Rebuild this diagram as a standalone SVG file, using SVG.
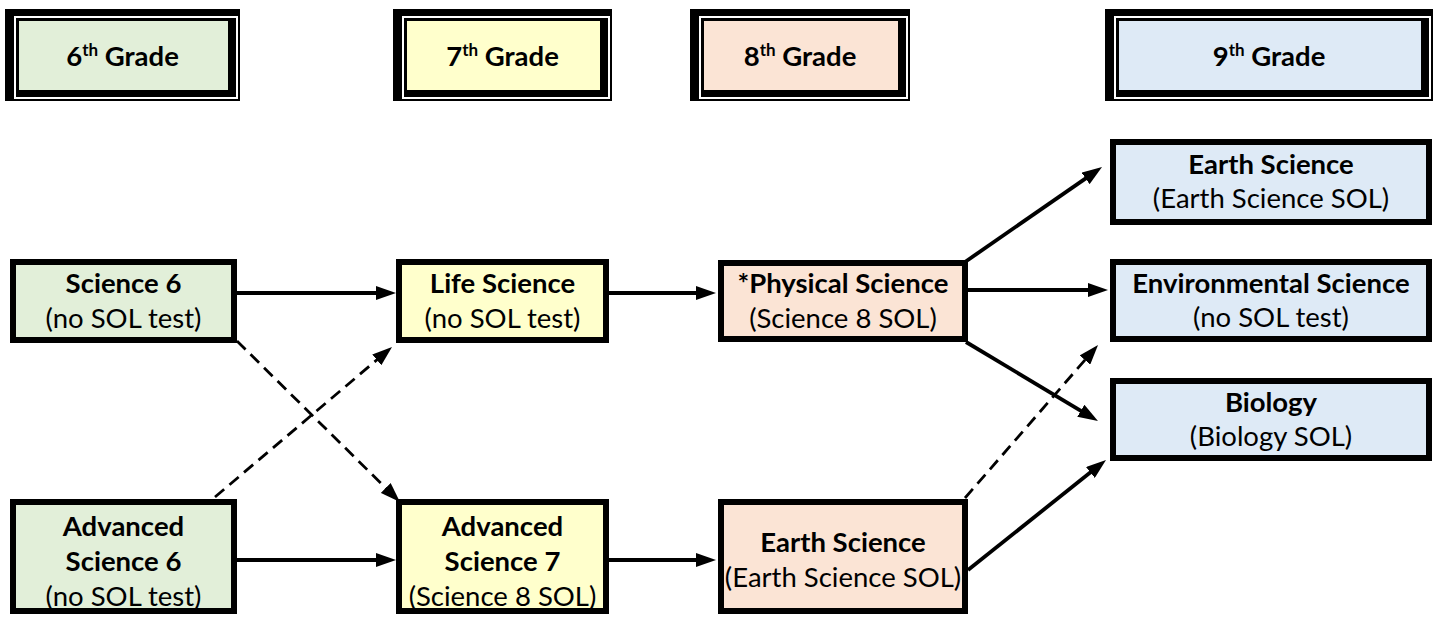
<svg xmlns="http://www.w3.org/2000/svg" width="1439" height="617" viewBox="0 0 1439 617">
<defs>
<style>
text{font-family:Lato,"Liberation Sans",sans-serif;font-size:27.5px;fill:#000;text-anchor:middle}
.b{font-weight:bold}
.sup{font-size:17px}
.node{stroke:#000;stroke-width:6}
.g6{fill:#E2EFD9}.g7{fill:#FFFFCC}.g8{fill:#FBE4D5}.g9{fill:#DEEAF6}
.hw{fill:none;stroke:#fff;stroke-width:2}
.c{stroke:#000;stroke-width:3.8;fill:none;marker-end:url(#ah)}
.d{stroke:#000;stroke-width:2.8;fill:none;stroke-dasharray:12 7;marker-end:url(#ah)}
</style>
<marker id="ah" viewBox="0 0 20 14" refX="5" refY="7" markerWidth="20" markerHeight="14" markerUnits="userSpaceOnUse" orient="auto">
<path d="M0,0 L20,7 L0,14 z" fill="#000"/>
</marker>
</defs>
<rect width="1439" height="617" fill="#fff"/>

<g id="h6">
<rect x="5" y="9" width="235" height="92" fill="#000"/>
<rect class="hw" x="15" y="17" width="222" height="81"/>
<rect class="g6" x="19" y="21" width="209" height="69"/>
<text class="b" x="122.5" y="66">6<tspan class="sup" dy="-10">th</tspan><tspan dy="10"> Grade</tspan></text>
</g>
<g id="h7">
<rect x="393" y="9" width="219" height="92" fill="#000"/>
<rect class="hw" x="403" y="17" width="206" height="81"/>
<rect class="g7" x="407" y="21" width="193" height="69"/>
<text class="b" x="502.5" y="66">7<tspan class="sup" dy="-10">th</tspan><tspan dy="10"> Grade</tspan></text>
</g>
<g id="h8">
<rect x="690" y="9" width="220" height="92" fill="#000"/>
<rect class="hw" x="700" y="17" width="207" height="81"/>
<rect class="g8" x="704" y="21" width="194" height="69"/>
<text class="b" x="800" y="66">8<tspan class="sup" dy="-10">th</tspan><tspan dy="10"> Grade</tspan></text>
</g>
<g id="h9">
<rect x="1105" y="9" width="328" height="92" fill="#000"/>
<rect class="hw" x="1115" y="17" width="315" height="81"/>
<rect class="g9" x="1119" y="21" width="302" height="69"/>
<text class="b" x="1269" y="66">9<tspan class="sup" dy="-10">th</tspan><tspan dy="10"> Grade</tspan></text>
</g>

<g id="connectors">
<line class="c" x1="229" y1="293" x2="381" y2="293"/>
<line class="c" x1="609" y1="293" x2="701" y2="293"/>
<line class="c" x1="963" y1="290" x2="1093" y2="290"/>
<line class="c" x1="965" y1="262" x2="1089.7" y2="175.6"/>
<line class="c" x1="966" y1="342" x2="1085.1" y2="413.3"/>
<line class="c" x1="968" y1="570" x2="1094.3" y2="469.3"/>
<line class="c" x1="237" y1="560" x2="381" y2="560"/>
<line class="c" x1="609" y1="560" x2="701" y2="560"/>
<line class="d" x1="237" y1="341" x2="389.3" y2="491.5"/>
<line class="d" x1="215" y1="497" x2="380.6" y2="356.7"/>
<line class="d" x1="965" y1="498" x2="1088.2" y2="356.3"/>
</g>

<g id="sci6">
<rect class="node g6" x="13" y="262" width="221" height="78"/>
<text class="b" x="123.5" y="293">Science 6</text>
<text x="123.5" y="328">(no SOL test)</text>
</g>
<g id="adv6">
<rect class="node g6" x="13" y="502" width="221" height="109"/>
<text class="b" x="123.5" y="536">Advanced</text>
<text class="b" x="123.5" y="571">Science 6</text>
<text x="123.5" y="606">(no SOL test)</text>
</g>
<g id="life">
<rect class="node g7" x="399" y="262" width="207" height="78"/>
<text class="b" x="502.5" y="293">Life Science</text>
<text x="502.5" y="328">(no SOL test)</text>
</g>
<g id="adv7">
<rect class="node g7" x="399" y="502" width="207" height="109"/>
<text class="b" x="502.5" y="536">Advanced</text>
<text class="b" x="502.5" y="571">Science 7</text>
<text x="502.5" y="606">(Science 8 SOL)</text>
</g>
<g id="phys">
<rect class="node g8" x="721" y="263" width="244" height="76"/>
<text class="b" x="843" y="293">*Physical Science</text>
<text x="843" y="328">(Science 8 SOL)</text>
</g>
<g id="earth8">
<rect class="node g8" x="721" y="502" width="244" height="109"/>
<text class="b" x="843" y="552">Earth Science</text>
<text x="843" y="587">(Earth Science SOL)</text>
</g>
<g id="earth9">
<rect class="node g9" x="1113" y="142" width="316" height="80"/>
<text class="b" x="1271" y="174">Earth Science</text>
<text x="1271" y="208">(Earth Science SOL)</text>
</g>
<g id="env">
<rect class="node g9" x="1113" y="262" width="316" height="77"/>
<text class="b" x="1271" y="293">Environmental Science</text>
<text x="1271" y="327">(no SOL test)</text>
</g>
<g id="bio">
<rect class="node g9" x="1113" y="381" width="316" height="77"/>
<text class="b" x="1271" y="412">Biology</text>
<text x="1271" y="446">(Biology SOL)</text>
</g>
</svg>
